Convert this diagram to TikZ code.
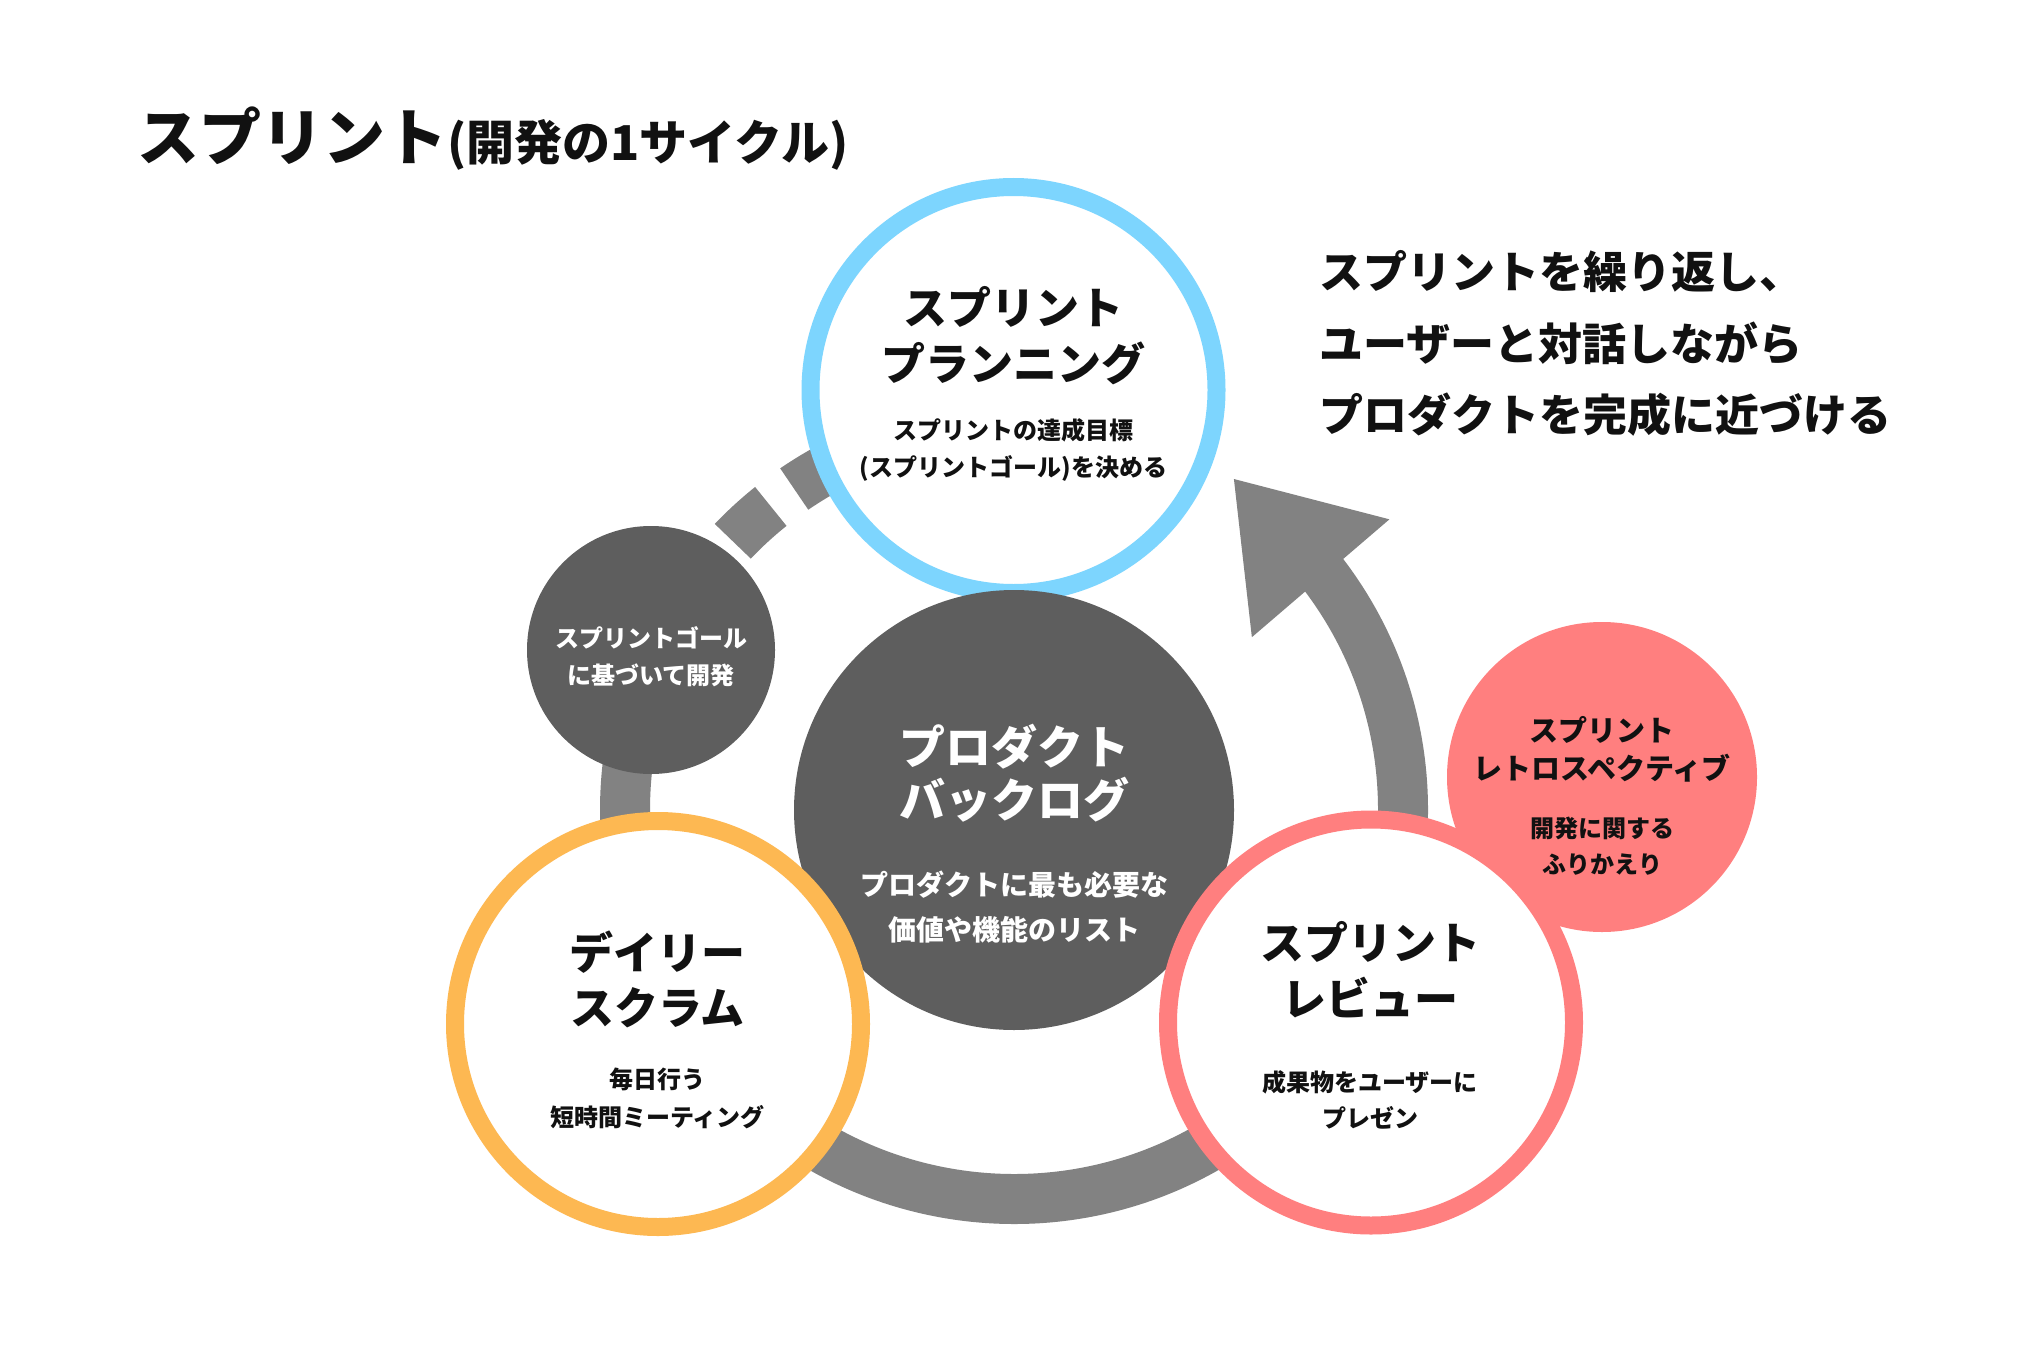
\documentclass[tikz,border=0pt]{standalone}
\usepackage{fontspec}
\setmainfont{Noto Sans CJK JP}
\usetikzlibrary{calc}
\definecolor{ringgray}{HTML}{828282}
\definecolor{darkc}{HTML}{5E5E5E}
\definecolor{blueC}{HTML}{7DD5FE}
\definecolor{orangeC}{HTML}{FDB852}
\definecolor{pinkC}{HTML}{FF7F7F}
\definecolor{ink}{HTML}{111111}
\begin{document}
\begin{tikzpicture}[x=0.5pt,y=0.5pt,
  every node/.style={inner sep=0pt, outer sep=0pt},
  proc/.style={circle, draw=#1, line width=9pt, fill=white, minimum size=203pt},
  disc/.style={circle, fill=#1},
  ringseg/.style={draw=ringgray, line width=25pt},
  bigtxt/.style={text=ink, font=\bfseries\fontsize{22}{22}\selectfont},
  smalltxt/.style={text=ink, font=\bfseries\fontsize{12}{12}\selectfont},
  sidetxt/.style={anchor=west, text=ink, font=\bfseries\fontsize{22}{22}\selectfont},
]
\fill[white] (0,0) rectangle (2022,-1348);
\useasboundingbox (0,0) rectangle (2022,-1348);

% cycle ring
\coordinate (rc) at (1014,-810);
\draw[ringseg] ($(rc)+(37.5:194.5pt)$) arc[start angle=37.5, end angle=-210, radius=194.5pt];
\draw[ringseg] ($(rc)+(136.3:194.5pt)$) arc[start angle=136.3, end angle=128.7, radius=194.5pt];
\draw[ringseg] ($(rc)+(124.4:194.5pt)$) arc[start angle=124.4, end angle=116.8, radius=194.5pt];
\fill[ringgray] ($(rc)+(36:147pt)$) -- ($(rc)+(37.75:237.4pt)$) -- ($(rc)+(56.4:198.7pt)$) -- cycle;

% circles
\node[proc=blueC] (plan) at (1013.5,-390) {};
\node[disc=darkc, minimum size=220pt] (backlog) at (1014,-810) {};
\node[proc=orangeC] (daily) at (658,-1024) {};
\node[disc=pinkC, minimum size=155pt] (retro) at (1602,-777) {};
\node[proc=pinkC] (review) at (1371,-1022.5) {};
\node[disc=darkc, minimum size=124pt] (goal) at (651,-650) {};

% title
\node[anchor=west, text=ink, font=\bfseries] (title) at (137,-139)
  {{\fontsize{31}{31}\selectfont スプリント}{\fontsize{24}{24}\selectfont (開発の1サイクル)}};

% side text
\node[sidetxt] (side1) at (1319,-272) {スプリントを繰り返し、};
\node[sidetxt] (side2) at (1319,-343) {ユーザーと対話しながら};
\node[sidetxt] (side3) at (1319,-415) {プロダクトを完成に近づける};

% planning
\node[bigtxt] (planA) at (1013.5,-307) {スプリント};
\node[bigtxt] (planB) at (1013.5,-363) {プランニング};
\node[smalltxt] (planC) at (1013.5,-430) {スプリントの達成目標};
\node[smalltxt] (planD) at (1013.5,-468) {(スプリントゴール)を決める};

% backlog
\node[bigtxt, text=white, font=\bfseries\fontsize{23}{23}\selectfont] (blA) at (1014,-747) {プロダクト};
\node[bigtxt, text=white, font=\bfseries\fontsize{23}{23}\selectfont] (blB) at (1014,-800) {バックログ};
\node[text=white, font=\bfseries\fontsize{14}{14}\selectfont] (blC) at (1014,-885) {プロダクトに最も必要な};
\node[text=white, font=\bfseries\fontsize{14}{14}\selectfont] (blD) at (1014,-930) {価値や機能のリスト};

% goal
\node[smalltxt, text=white] (goalA) at (651,-638) {スプリントゴール};
\node[smalltxt, text=white] (goalB) at (651,-675) {に基づいて開発};

% daily
\node[bigtxt] (dA) at (657.5,-952) {デイリー};
\node[bigtxt] (dB) at (657.5,-1008) {スクラム};
\node[smalltxt] (dC) at (657.5,-1079) {毎日行う};
\node[smalltxt] (dD) at (657.5,-1117) {短時間ミーティング};

% review
\node[bigtxt] (rA) at (1370,-942) {スプリント};
\node[bigtxt] (rB) at (1370,-998) {レビュー};
\node[smalltxt] (rC) at (1370,-1082) {成果物をユーザーに};
\node[smalltxt] (rD) at (1370,-1118) {プレゼン};

% retro
\node[text=ink, font=\bfseries\fontsize{14.5}{14.5}\selectfont] (reA) at (1602,-730) {スプリント};
\node[text=ink, font=\bfseries\fontsize{14.5}{14.5}\selectfont] (reB) at (1602,-768) {レトロスペクティブ};
\node[smalltxt] (reC) at (1602,-828) {開発に関する};
\node[smalltxt] (reD) at (1602,-865) {ふりかえり};
\end{tikzpicture}
\end{document}
